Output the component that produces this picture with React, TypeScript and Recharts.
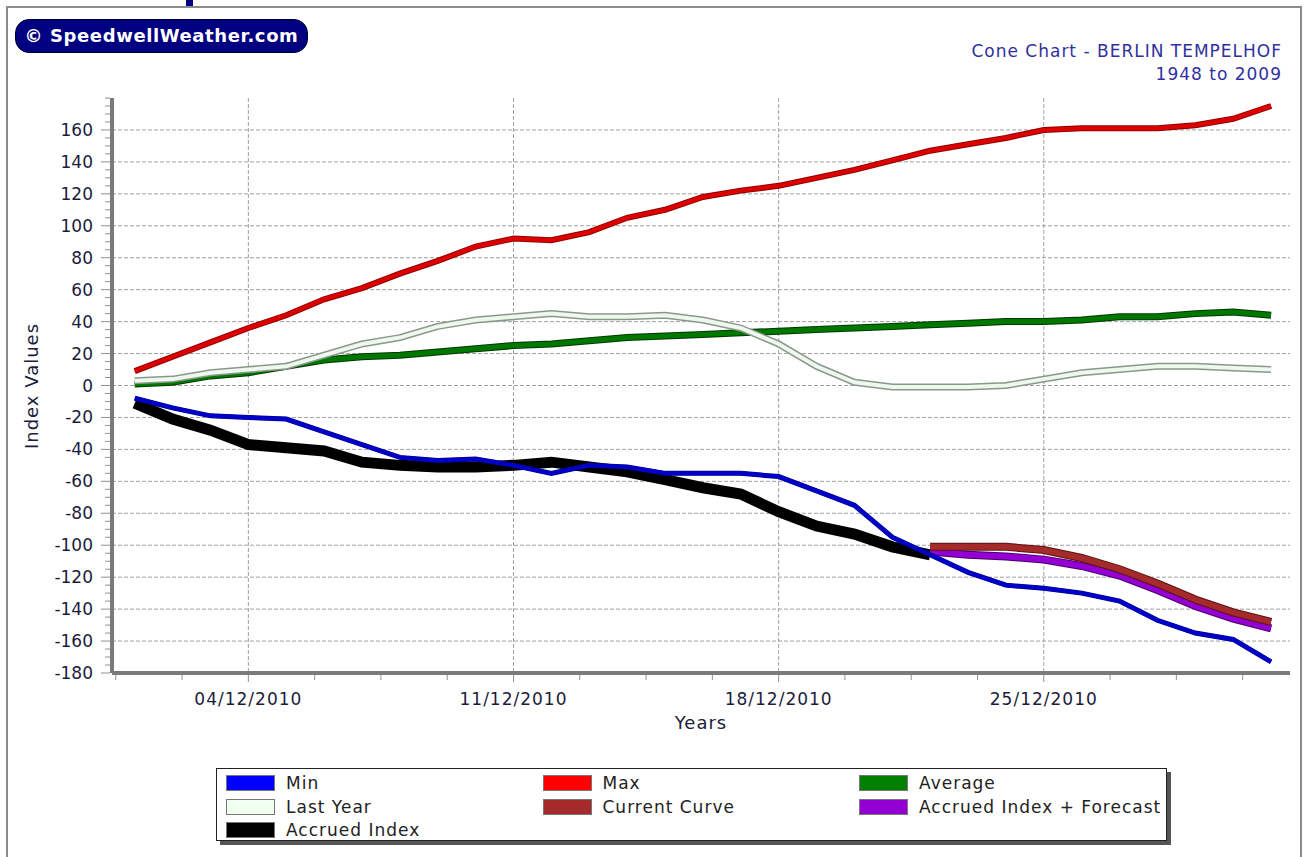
import React from 'react';
import { LineChart, Line, XAxis, YAxis, CartesianGrid } from 'recharts';

const days = [1, 2, 3, 4, 5, 6, 7, 8, 9, 10, 11, 12, 13, 14, 15, 16, 17, 18, 19, 20, 21, 22, 23, 24, 25, 26, 27, 28, 29, 30, 31];

const maxVals = [9, 18, 27, 36, 44, 54, 61, 70, 78, 87, 92, 91, 96, 105, 110, 118, 122, 125, 130, 135, 141, 147, 151, 155, 160, 161, 161, 161, 163, 167, 175];
const avgVals = [1, 2, 6, 8, 12, 16, 18, 19, 21, 23, 25, 26, 28, 30, 31, 32, 33, 34, 35, 36, 37, 38, 39, 40, 40, 41, 43, 43, 45, 46, 44];
const lastYearVals = [3, 4, 8, 10, 12, 19, 26, 30, 37, 41, 43, 45, 43, 43, 44, 41, 36, 26, 12, 2, -1, -1, -1, 0, 4, 8, 10, 12, 12, 11, 10];
const minVals = [-8, -14, -19, -20, -21, -29, -37, -45, -47, -46, -50, -55, -50, -51, -55, -55, -55, -57, -66, -75, -95, -106, -117, -125, -127, -130, -135, -147, -155, -159, -173];
const accruedVals = [-11, -21, -28, -37, -39, -41, -48, -50, -51, -51, -50, -48, -51, -54, -59, -64, -68, -79, -88, -93, -101, -106];
const currentVals = [-101, -101, -101, -103, -108, -115, -124, -134, -142, -148];
const forecastVals = [-104, -106, -107, -109, -113, -119, -128, -138, -146, -152];
const forecastStart = 22;

const xTicks = [0.5, 2.25, 4, 5.75, 7.5, 9.25, 11, 12.75, 14.5, 16.25, 18, 19.75, 21.5, 23.25, 25, 26.75, 28.5, 30.25];
const xLabels: Record<number, string> = { 4: '04/12/2010', 11: '11/12/2010', 18: '18/12/2010', 25: '25/12/2010' };
const yTicks = [-180, -175, -170, -165, -160, -155, -150, -145, -140, -135, -130, -125, -120, -115, -110, -105, -100, -95, -90, -85, -80, -75, -70, -65, -60, -55, -50, -45, -40, -35, -30, -25, -20, -15, -10, -5, 0, 5, 10, 15, 20, 25, 30, 35, 40, 45, 50, 55, 60, 65, 70, 75, 80, 85, 90, 95, 100, 105, 110, 115, 120, 125, 130, 135, 140, 145, 150, 155, 160, 165, 170, 175, 180];
const yGrid = [-180, -160, -140, -120, -100, -80, -60, -40, -20, 0, 20, 40, 60, 80, 100, 120, 140, 160];

const legendItems = [
  { label: 'Min', color: '#0000ff' },
  { label: 'Max', color: '#ff0000' },
  { label: 'Average', color: '#008000' },
  { label: 'Last Year', color: '#f0fff0' },
  { label: 'Current Curve', color: '#a52a2a' },
  { label: 'Accrued Index + Forecast', color: '#9400d3' },
  { label: 'Accrued Index', color: '#000000' },
];

const rows = days.map((d, i) => ({
  day: d,
  max: maxVals[i],
  avg: avgVals[i],
  lastYear: lastYearVals[i],
  min: minVals[i],
  accrued: i < accruedVals.length ? accruedVals[i] : null,
  current: d >= forecastStart ? currentVals[d - forecastStart] : null,
  forecast: d >= forecastStart ? forecastVals[d - forecastStart] : null,
}));

const font = '"DejaVu Sans", Verdana, sans-serif';
const textColor = '#1c1c3c';

const YTick = (props: any) => {
  const { x, y, payload } = props;
  const major = payload.value % 20 === 0 && payload.value !== 180;
  return (
    <g>
      <line x1={x - 2} x2={x - (major ? 11 : 7)} y1={y} y2={y} stroke="#909090" strokeWidth={1} />
      {major && (
        <text x={x - 19} y={y} textAnchor="end" dominantBaseline="central" fontSize={17} fontFamily={font} fill={textColor}>
          {payload.value}
        </text>
      )}
    </g>
  );
};

const XTick = (props: any) => {
  const { x, y, payload } = props;
  const label = xLabels[payload.value];
  return (
    <g>
      <line x1={x} x2={x} y1={y + 2} y2={y + (label ? 9 : 7)} stroke="#909090" strokeWidth={1} />
      {label && (
        <text x={x} y={y + 26} textAnchor="middle" dominantBaseline="central" fontSize={17} letterSpacing={1} fontFamily={font} fill={textColor}>
          {label}
        </text>
      )}
    </g>
  );
};

const line = (key: string, color: string, width: number, outline?: string, outlineWidth?: number) => {
  const out = [];
  if (outline) {
    out.push(
      <Line key={key + '-o'} type="linear" dataKey={key} stroke={outline} strokeWidth={outlineWidth} dot={false} activeDot={false} isAnimationActive={false} connectNulls={false} />
    );
  }
  out.push(
    <Line key={key} type="linear" dataKey={key} stroke={color} strokeWidth={width} dot={false} activeDot={false} isAnimationActive={false} connectNulls={false} />
  );
  return out;
};

export default function App() {
  return (
    <div style={{ position: 'absolute', left: 0, top: 0, width: 1307, height: 857, background: '#fff', overflow: 'hidden', fontFamily: font }}>
      <div style={{ position: 'absolute', left: 186, top: 0, width: 7, height: 6, background: '#000080' }} />
      <div style={{ position: 'absolute', left: 6, top: 6, width: 1296, height: 900, border: '2px solid #8c8c8c', boxSizing: 'border-box' }} />

      <div style={{ position: 'absolute', left: 15, top: 19, width: 293, height: 34, background: '#000080', border: '1px solid #000030', borderRadius: 14, boxSizing: 'border-box', color: '#fff', fontWeight: 'bold', fontSize: 18, letterSpacing: 0.6, lineHeight: '32px', textAlign: 'center', fontFamily: font }}>
        © SpeedwellWeather.com
      </div>

      <div style={{ position: 'absolute', right: 25, top: 40, textAlign: 'right', color: '#3030a0', fontSize: 17, letterSpacing: 1, lineHeight: '23px', fontFamily: font }}>
        <div>Cone Chart - BERLIN TEMPELHOF</div>
        <div>1948 to 2009</div>
      </div>

      <div style={{ position: 'absolute', left: 0, top: 0 }}>
        <LineChart width={1307} height={857} data={rows} margin={{ top: 98, right: 17, bottom: 154, left: 50 }}>
          <CartesianGrid stroke="#a0a0a0" strokeDasharray="4 2" horizontalValues={yGrid} verticalValues={[4, 11, 18, 25]} />
          <XAxis
            type="number"
            dataKey="day"
            domain={[0.4, 31.5]}
            ticks={xTicks}
            interval={0}
            tick={<XTick />}
            tickLine={false}
            tickSize={0}
            tickMargin={0}
            height={30}
            allowDataOverflow
            axisLine={{ stroke: '#7a7a7a', strokeWidth: 4 }}
          />
          <YAxis
            type="number"
            domain={[-180, 180]}
            ticks={yTicks}
            interval={0}
            tick={<YTick />}
            tickLine={false}
            tickSize={0}
            tickMargin={0}
            width={62}
            allowDataOverflow
            axisLine={{ stroke: '#7a7a7a', strokeWidth: 4 }}
          />
          {line('avg', '#007800', 5, '#003800', 7)}
          {line('lastYear', '#eef8ee', 4, '#8a988a', 7)}
          {line('max', '#dd0000', 4, '#900000', 6)}
          {line('accrued', '#000000', 11)}
          {line('forecast', '#9400d3', 6, '#4a0068', 8)}
          {line('current', '#a52a2a', 6, '#5a1414', 8)}
          {line('min', '#0000c8', 4, '#000080', 5)}
        </LineChart>
      </div>

      <div style={{ position: 'absolute', left: 31, top: 386, transform: 'translate(-50%, -50%) rotate(-90deg)', fontSize: 18, letterSpacing: 1, color: textColor, whiteSpace: 'nowrap' }}>
        Index Values
      </div>
      <div style={{ position: 'absolute', left: 701, top: 722, transform: 'translate(-50%, -50%)', fontSize: 18, letterSpacing: 1, color: textColor }}>
        Years
      </div>

      <div style={{ position: 'absolute', left: 220, top: 772, width: 951, height: 73, background: '#555' }} />
      <div style={{ position: 'absolute', left: 216, top: 768, width: 951, height: 73, background: '#fff', border: '1px solid #222', boxSizing: 'border-box' }}>
        {legendItems.map((it, i) => (
          <div key={it.label} style={{ position: 'absolute', left: 9 + (i % 3) * 316.5, top: 5 + Math.floor(i / 3) * 23.5, height: 18, display: 'flex', alignItems: 'center' }}>
            <div style={{ width: 49, height: 16, background: it.color, border: '1px solid #777', boxSizing: 'border-box' }} />
            <span style={{ marginLeft: 11, fontSize: 17, letterSpacing: 1, color: '#222', fontFamily: font, whiteSpace: 'nowrap' }}>{it.label}</span>
          </div>
        ))}
      </div>
    </div>
  );
}
